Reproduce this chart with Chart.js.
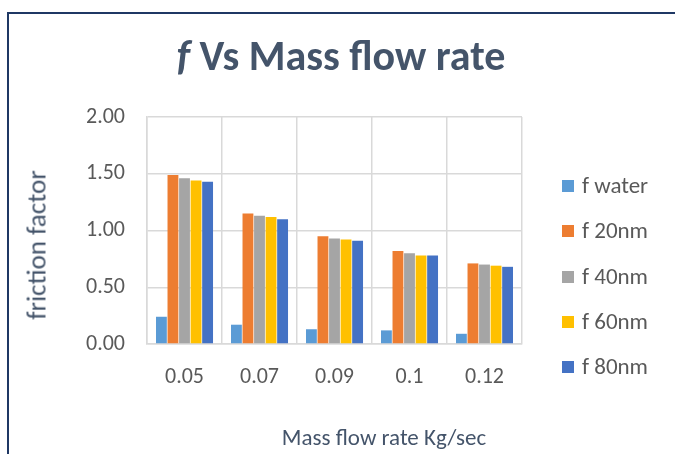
<!DOCTYPE html>
<html>
<head>
<meta charset="utf-8">
<script src="https://cdn.jsdelivr.net/npm/chart.js@4.4.1/dist/chart.umd.min.js"></script>
<style>
    body { margin: 0; background: #fff; }
    #wrap { position: relative; width: 675px; height: 454px; overflow: hidden; font-family: Carlito, Lato, sans-serif; }
    #frame { position: absolute; left: 7px; top: 12px; width: 720px; height: 480px; border-left: 2px solid #1f3864; border-top: 2px solid #1f3864; }
    #chart { position: absolute; left: 0; top: 0; }
    .title { position: absolute; left: 0; width: 682px; top: 30px; text-align: center; font-size: 42px; font-weight: bold; color: #44546a; }
    .ytitle { position: absolute; left: 36px; top: 245px; transform: translate(-50%, -50%) rotate(-90deg); white-space: nowrap; font-size: 27px; color: #44546a; }
    .xtitle { position: absolute; left: 384px; top: 437px; transform: translate(-50%, -50%); white-space: nowrap; font-size: 23px; color: #44546a; }
    #legend { position: absolute; left: 562px; top: 0; }
    .item { position: absolute; left: 0; white-space: nowrap; font-size: 23px; color: #595959; transform: translateY(-50%); }
    .item span { display: inline-block; width: 12px; height: 12px; margin-right: 8px; vertical-align: 1px; }
</style>
</head>
<body>
<div id="wrap">
    <div id="frame"></div>
    <canvas id="chart" width="675" height="454"></canvas>
    <div class="title"><i>f</i> Vs Mass flow rate</div>
    <div class="ytitle">friction factor</div>
    <div class="xtitle">Mass flow rate Kg/sec</div>
    <div id="legend"></div>
</div>
<script>
// Mass flow rate categories
const categories = ['0.05', '0.07', '0.09', '0.1', '0.12'];

// friction factor per fluid
const fWater = [0.24, 0.17, 0.13, 0.12, 0.09];
const f20nm = [1.49, 1.15, 0.95, 0.82, 0.71];
const f40nm = [1.46, 1.13, 0.93, 0.80, 0.70];
const f60nm = [1.44, 1.12, 0.92, 0.78, 0.69];
const f80nm = [1.43, 1.10, 0.91, 0.78, 0.68];

const seriesNames = ['f water', 'f 20nm', 'f 40nm', 'f 60nm', 'f 80nm'];
const seriesColors = ['#5b9bd5', '#ed7d31', '#a5a5a5', '#ffc000', '#4472c4'];
const yTicks = [0, 0.5, 1, 1.5, 2];

const seriesData = [fWater, f20nm, f40nm, f60nm, f80nm];

// Legend on the right
const legendDiv = document.getElementById('legend');
seriesNames.forEach((name, i) => {
    const item = document.createElement('div');
    item.classList.add('item');
    item.style.top = (185 + i * 45.3) + 'px';
    item.innerHTML = `<span style="background:${seriesColors[i]}"></span>${name}`;
    legendDiv.appendChild(item);
});

const tickFont = { family: 'Carlito, Lato, sans-serif', size: 22 };

new Chart(document.getElementById('chart'), {
    type: 'bar',
    data: {
        labels: categories,
        datasets: seriesData.map((values, i) => ({
            label: seriesNames[i],
            data: values,
            backgroundColor: seriesColors[i],
            barPercentage: 0.94,
            categoryPercentage: 0.77
        }))
    },
    options: {
        responsive: false,
        animation: false,
        layout: { padding: { top: 117, right: 153, bottom: 0, left: 0 } },
        plugins: {
            legend: { display: false },
            title: { display: false },
            tooltip: { enabled: false }
        },
        scales: {
            x: {
                grid: { color: '#d9d9d9', lineWidth: 1.5, drawTicks: false },
                border: { color: '#d9d9d9', width: 1.5 },
                ticks: { color: '#595959', font: tickFont, padding: 20 },
                afterFit: scale => { scale.height = 110; }
            },
            y: {
                min: 0,
                max: 2,
                afterBuildTicks: scale => { scale.ticks = yTicks.map(v => ({ value: v })); },
                grid: { color: '#d9d9d9', lineWidth: 1.5, drawTicks: false },
                border: { color: '#d9d9d9', width: 1.5 },
                ticks: { color: '#595959', font: tickFont, padding: 22, callback: v => v.toFixed(2) },
                afterFit: scale => { scale.width = 147; }
            }
        }
    }
});
</script>
</body>
</html>
